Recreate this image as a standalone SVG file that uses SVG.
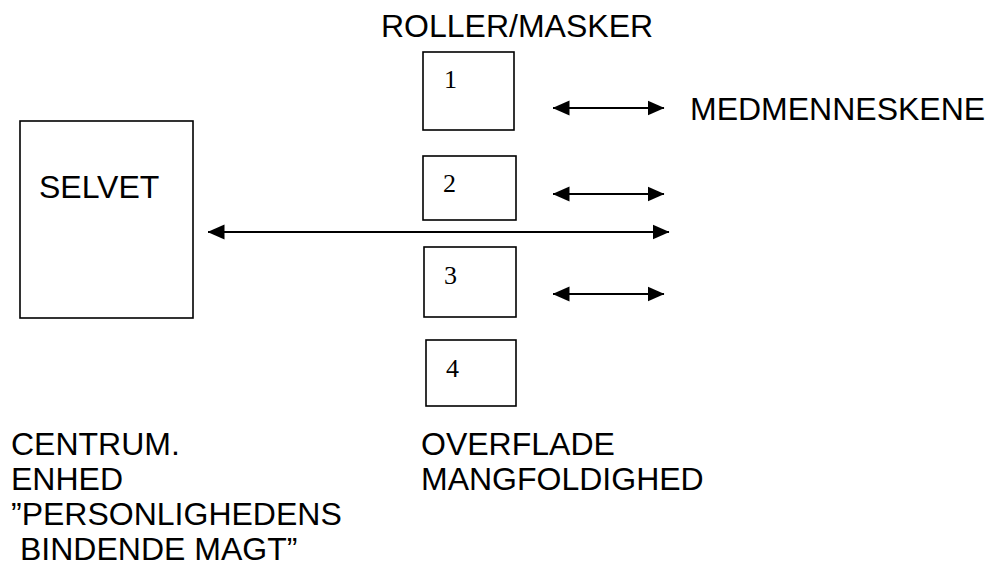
<svg xmlns="http://www.w3.org/2000/svg" width="991" height="587" viewBox="0 0 991 587">
<defs>
<marker id="ah" viewBox="0 0 17 16" refX="16.5" refY="8" markerWidth="17" markerHeight="16" markerUnits="userSpaceOnUse" orient="auto-start-reverse">
<path d="M0,0.5 L17,8 L0,15.5 Z" fill="#000"/>
</marker>
<style>
.box{fill:#fff;stroke:#000;stroke-width:1.6}
.lbl{font-family:"Liberation Sans",Arial,sans-serif;font-size:32px;fill:#000}
.num{font-family:"Liberation Serif","Times New Roman",serif;font-size:26px;fill:#000}
.con{stroke:#000;stroke-width:1.8;fill:none}
</style>
</defs>
<rect width="991" height="587" fill="#fff"/>
<g id="selvet">
<rect class="box" x="20" y="121" width="173" height="197"/>
<text class="lbl" x="39" y="198">SELVET</text>
</g>
<g id="role1">
<rect class="box" x="423" y="52" width="91" height="78"/>
<text class="num" x="444" y="88">1</text>
</g>
<g id="role2">
<rect class="box" x="423" y="156" width="93" height="64"/>
<text class="num" x="443" y="192">2</text>
</g>
<g id="role3">
<rect class="box" x="424" y="247" width="92" height="70"/>
<text class="num" x="444" y="284">3</text>
</g>
<g id="role4">
<rect class="box" x="426" y="340" width="90" height="66"/>
<text class="num" x="446" y="377">4</text>
</g>
<g id="labels">
<text class="lbl" x="381" y="37">ROLLER/MASKER</text>
<text class="lbl" x="690" y="120">MEDMENNESKENE</text>
<text class="lbl" x="11" y="455">CENTRUM.</text>
<text class="lbl" x="11" y="490">ENHED</text>
<text class="lbl" x="11" y="525">”PERSONLIGHEDENS</text>
<text class="lbl" x="20" y="560">BINDENDE MAGT”</text>
<text class="lbl" x="421" y="455">OVERFLADE</text>
<text class="lbl" x="421" y="490">MANGFOLDIGHED</text>
</g>
<g id="connectors">
<line class="con" x1="553" y1="108" x2="664" y2="108" marker-start="url(#ah)" marker-end="url(#ah)"/>
<line class="con" x1="553" y1="194" x2="664" y2="194" marker-start="url(#ah)" marker-end="url(#ah)"/>
<line class="con" x1="208" y1="232" x2="669" y2="232" marker-start="url(#ah)" marker-end="url(#ah)"/>
<line class="con" x1="553" y1="294" x2="664" y2="294" marker-start="url(#ah)" marker-end="url(#ah)"/>
</g>
</svg>
